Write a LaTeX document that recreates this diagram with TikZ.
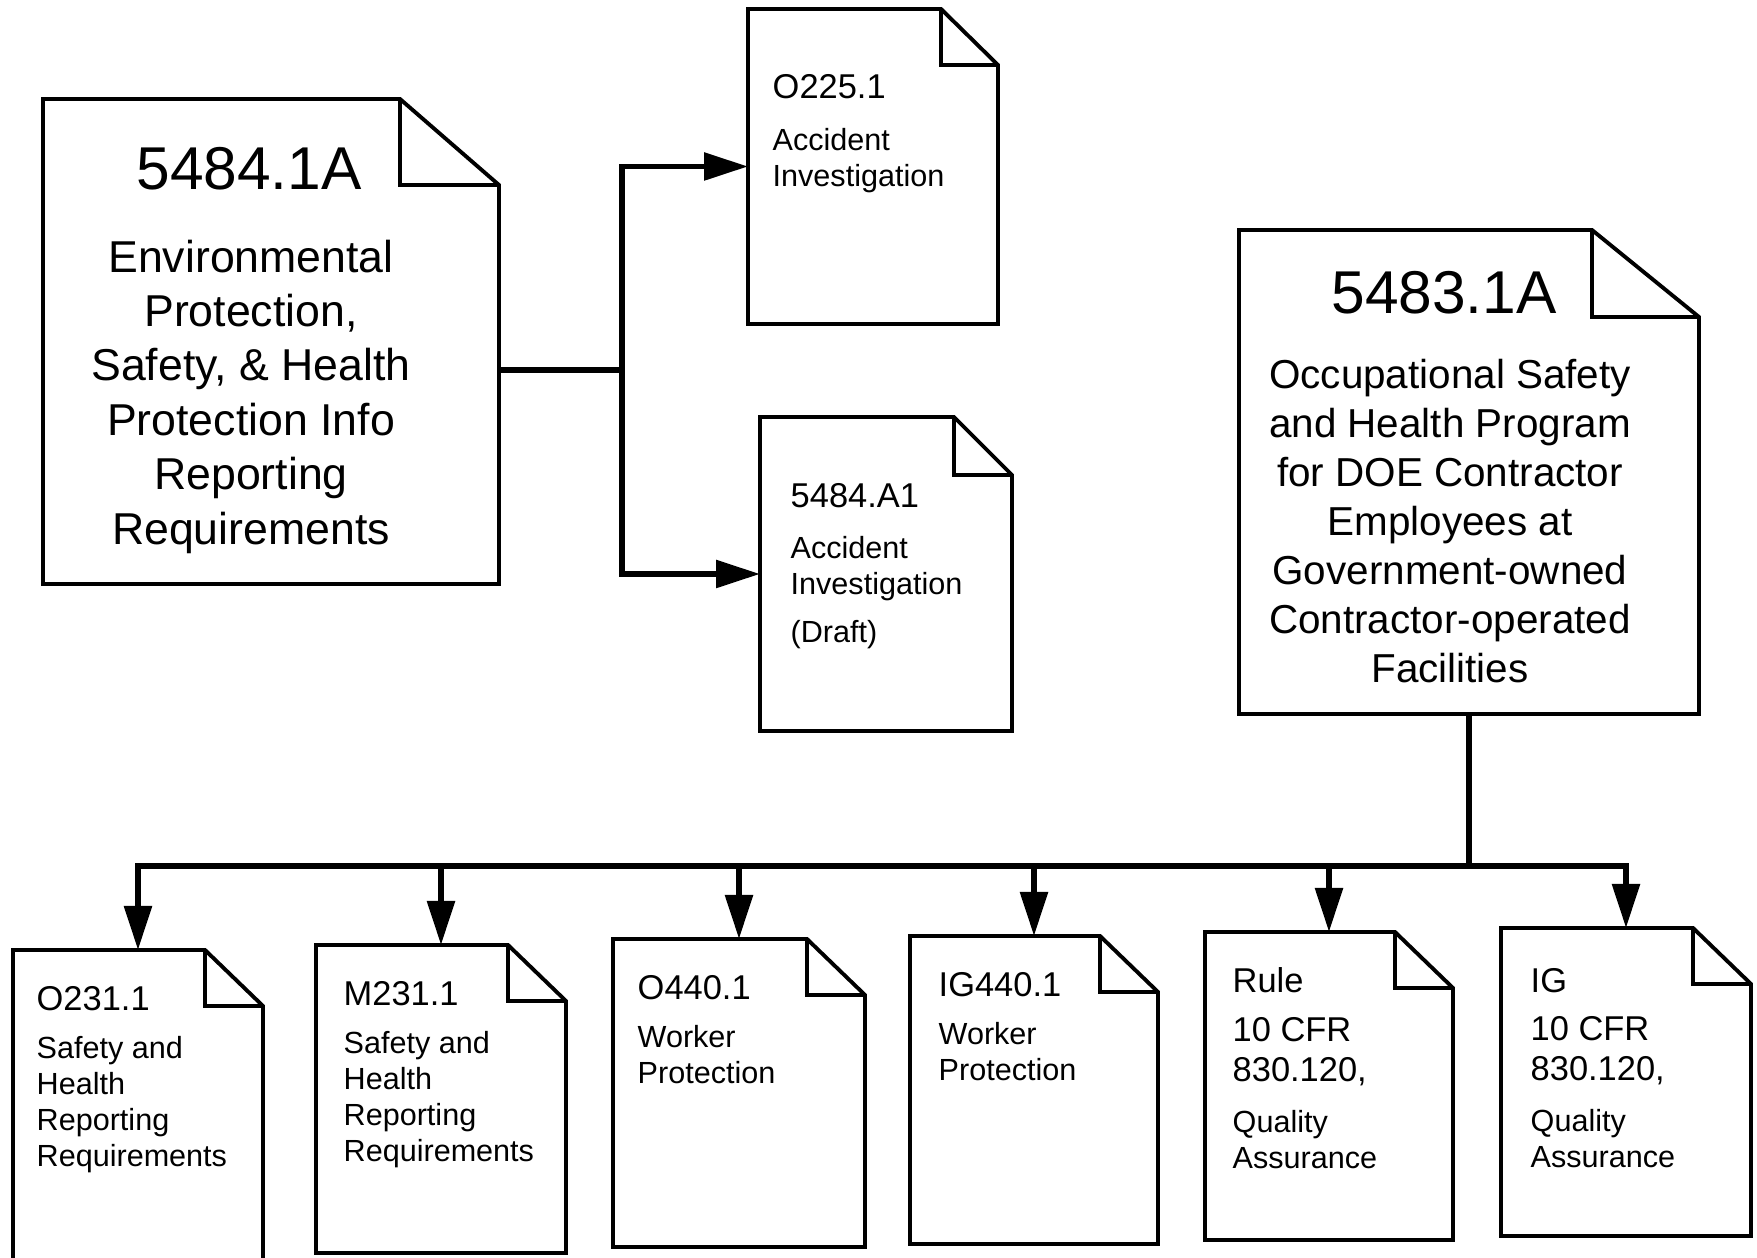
\documentclass[tikz,border=0pt]{standalone}
\usepackage{fontspec}
\setmainfont{Liberation Sans}
\usetikzlibrary{arrows.meta,calc}

% dog-eared page: name, south west corner, width, height, fold width, fold height
\newcommand{\docpage}[6]{%
  \node[page, anchor=south west, minimum width=#3, minimum height=#4] (#1) at (#2) {};
  \draw[pageline] (#1.south west) -- (#1.north west) -- ([xshift=-#5]#1.north east)
    -- ([yshift=-#6]#1.north east) -- (#1.south east) -- cycle;
  \draw[pageline] ([xshift=-#5]#1.north east) |- ([yshift=-#6]#1.north east);
}

\begin{document}
\begin{tikzpicture}[
    page/.style={inner sep=0pt, outer sep=0pt},
    pageline/.style={line width=1.1pt, line join=miter},
    link/.style={line width=1.6pt},
    arr/.style={link, -{Triangle[length=4.4mm, width=2.7mm]}},
    bignum/.style={font=\fontsize{17.2}{20}\selectfont, inner sep=0pt},
    bigtxt/.style={font=\fontsize{12.7}{15.5}\selectfont, align=center, inner sep=0pt},
    midtxt/.style={font=\fontsize{11.5}{13.9}\selectfont, align=center, inner sep=0pt},
    num/.style={font=\fontsize{9.8}{11.3}\selectfont, align=left, inner sep=0pt},
    txt/.style={font=\fontsize{8.7}{10.2}\selectfont, align=left, inner sep=0pt}
  ]
  \useasboundingbox (0,0) rectangle (175.7mm,125.8mm);

  % ===== 5484.1A with the two accident investigation pages =====
  \docpage{epsh}{4.3mm,67.4mm}{45.6mm}{48.5mm}{9.9mm}{8.6mm}
  \node[bignum, anchor=base] (epshno) at (24.9mm,106.8mm) {5484.1A};
  \node[bigtxt, anchor=north] (epshtxt) at (25.1mm,101.9mm)
    {Environmental\\Protection,\\Safety, \& Health\\Protection Info\\Reporting\\Requirements};

  \docpage{acc}{74.8mm,93.4mm}{25mm}{31.5mm}{5.7mm}{5.6mm}
  \node[num, anchor=base west] (accno) at ([shift={(2.4mm,-9mm)}]acc.north west) {O225.1};
  \node[txt, anchor=north west] (acctxt) at ([shift={(2.4mm,-11.9mm)}]acc.north west)
    {Accident\\Investigation};

  \docpage{accdraft}{76mm,52.7mm}{25.2mm}{31.4mm}{5.8mm}{5.8mm}
  \node[num, anchor=base west] (accdraftno) at ([shift={(3mm,-9.1mm)}]accdraft.north west) {5484.A1};
  \node[txt, anchor=north west] (accdrafttxt) at ([shift={(3mm,-11.9mm)}]accdraft.north west)
    {Accident\\Investigation\\[1.2mm](Draft)};

  \coordinate (split) at (62.2mm,88.8mm);
  \draw[link] (epsh.east |- split) -- (split);
  \draw[arr] (split) |- (acc.west);
  \draw[arr] (split) |- (accdraft.west);

  % ===== 5483.1A and the six pages below it =====
  \docpage{oshp}{123.9mm,54.4mm}{46mm}{48.4mm}{10.7mm}{8.7mm}
  \node[bignum, anchor=base] (oshpno) at (144.4mm,94.4mm) {5483.1A};
  \node[midtxt, anchor=north] (oshptxt) at (145mm,89.9mm)
    {Occupational Safety\\and Health Program\\for DOE Contractor\\Employees at\\Government-owned\\Contractor-operated\\Facilities};

  \docpage{o231}{1.3mm,-0.5mm}{25mm}{31.3mm}{5.8mm}{5.6mm}
  \node[num, anchor=base west] (o231no) at ([shift={(2.3mm,-6.1mm)}]o231.north west) {O231.1};
  \node[txt, anchor=north west] (o231txt) at ([shift={(2.3mm,-8.6mm)}]o231.north west)
    {Safety and\\Health\\Reporting\\Requirements};

  \docpage{m231}{31.6mm,0.5mm}{25mm}{30.8mm}{5.8mm}{5.6mm}
  \node[num, anchor=base west] (m231no) at ([shift={(2.7mm,-6.1mm)}]m231.north west) {M231.1};
  \node[txt, anchor=north west] (m231txt) at ([shift={(2.7mm,-8.6mm)}]m231.north west)
    {Safety and\\Health\\Reporting\\Requirements};

  \docpage{o440}{61.3mm,1.1mm}{25.2mm}{30.8mm}{5.8mm}{5.6mm}
  \node[num, anchor=base west] (o440no) at ([shift={(2.4mm,-6.1mm)}]o440.north west) {O440.1};
  \node[txt, anchor=north west] (o440txt) at ([shift={(2.4mm,-8.6mm)}]o440.north west)
    {Worker\\Protection};

  \docpage{ig440}{91mm,1.4mm}{24.8mm}{30.8mm}{5.8mm}{5.6mm}
  \node[num, anchor=base west] (ig440no) at ([shift={(2.8mm,-6.1mm)}]ig440.north west) {IG440.1};
  \node[txt, anchor=north west] (ig440txt) at ([shift={(2.8mm,-8.6mm)}]ig440.north west)
    {Worker\\Protection};

  \docpage{rule}{120.5mm,1.8mm}{24.8mm}{30.8mm}{5.8mm}{5.6mm}
  \node[num, anchor=base west] (ruleno) at ([shift={(2.7mm,-6.1mm)}]rule.north west) {Rule};
  \node[num, anchor=north west] (rulecfr) at ([shift={(2.7mm,-8.5mm)}]rule.north west)
    {10 CFR\\830.120,};
  \node[txt, anchor=north west] (ruletxt) at ([shift={(2.7mm,-17.8mm)}]rule.north west)
    {Quality\\Assurance};

  \docpage{igqa}{150.1mm,2.2mm}{25mm}{30.8mm}{5.8mm}{5.6mm}
  \node[num, anchor=base west] (igqano) at ([shift={(2.9mm,-6.5mm)}]igqa.north west) {IG};
  \node[num, anchor=north west] (igqacfr) at ([shift={(2.9mm,-8.8mm)}]igqa.north west)
    {10 CFR\\830.120,};
  \node[txt, anchor=north west] (igqatxt) at ([shift={(2.9mm,-18.1mm)}]igqa.north west)
    {Quality\\Assurance};

  \coordinate (bus) at ($(oshp.south)+(0,-15.2mm)$);
  \draw[link] (oshp.south) -- (bus);
  \draw[arr] (bus) -| (o231.north);
  \draw[arr] (bus) -| (m231.north);
  \draw[arr] (bus) -| (o440.north);
  \draw[arr] (bus) -| (ig440.north);
  \draw[arr] (bus) -| (rule.north);
  \draw[arr] (bus) -| (igqa.north);
\end{tikzpicture}
\end{document}
